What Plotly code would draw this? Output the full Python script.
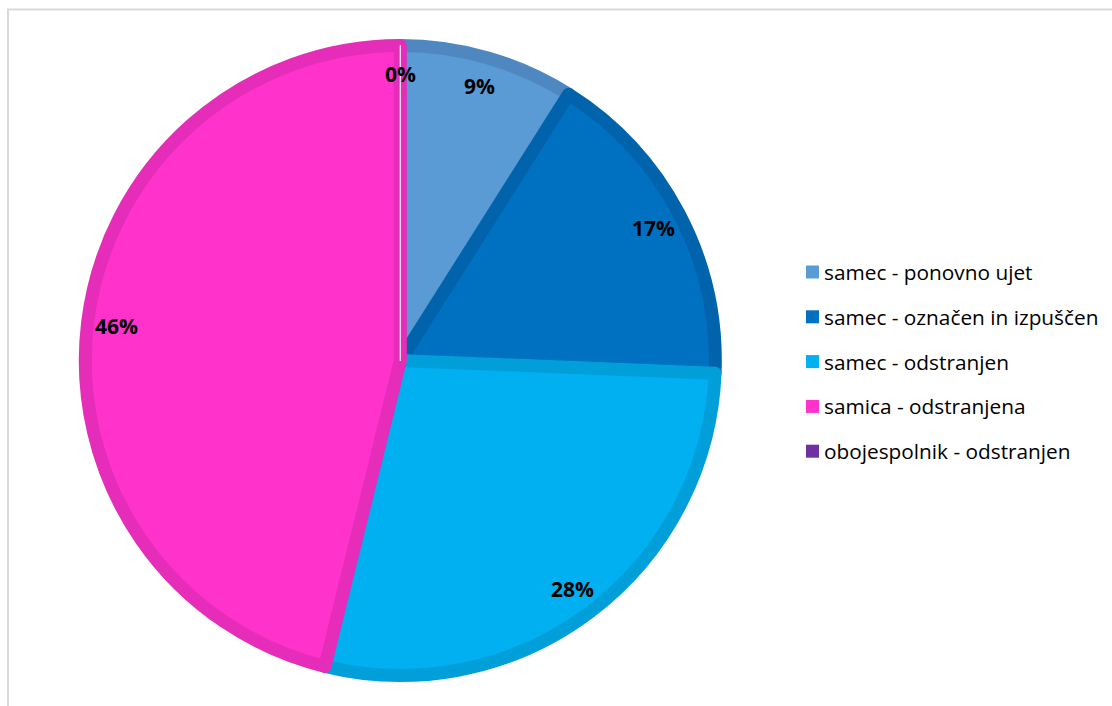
import math
import plotly.graph_objects as go

# Catch records by sex and fate
categories = [
    "samec - ponovno ujet",
    "samec - označen in izpuščen",
    "samec - odstranjen",
    "samica - odstranjena",
    "obojespolnik - odstranjen",
]
counts = [21, 39, 66, 108, 0]

fill_colors = ["#5B9BD5", "#0070C0", "#00B0F0", "#FF33CC", "#7030A0"]
edge_colors = ["#4F88C1", "#0063AB", "#009FDA", "#E52DB9", "#F4EEF8"]
edge_widths = [13, 13, 13, 13, 1.2]

W, H = 1112, 706
CX, CY = 400.3, 360.5          # pie centre in px (from top-left)
R_OUT = 321.5                  # outer edge including stroke
R = R_OUT - 6.5                # path radius (stroke is centred on it)

FONT = "Open Sans"

fig = go.Figure()

fig.add_trace(go.Pie(
    labels=categories,
    values=counts,
    sort=False,
    direction="clockwise",
    rotation=0,
    marker=dict(colors=fill_colors,
                line=dict(color=edge_colors, width=edge_widths)),
    textinfo="none",
    hoverinfo="label+percent",
    showlegend=False,
    domain=dict(x=[(CX - R) / W, (CX + R) / W],
                y=[(H - CY - R) / H, (H - CY + R) / H]),
))

# percentage labels placed along each slice's bisector
total = sum(counts)
cum = 0.0
annotations = []
for v in counts:
    mid = (cum + v / 2) / total * 2 * math.pi
    cum += v
    r = 0.89 * R_OUT
    px = CX + r * math.sin(mid)
    py = CY - r * math.cos(mid)
    annotations.append(dict(
        x=px / W, y=1 - py / H, xref="paper", yref="paper",
        text=f"<b>{round(100 * v / total)}%</b>", showarrow=False,
        xanchor="center", yanchor="middle",
        font=dict(family=FONT, size=21, color="#000000"),
    ))

# legend: coloured squares with category names
shapes = []
LEG_X0, LEG_TXT, LEG_Y0, LEG_DY, SQ = 806, 822, 272, 44.8, 13
for i, (name, col) in enumerate(zip(categories, fill_colors)):
    yc = LEG_Y0 + i * LEG_DY
    shapes.append(dict(
        type="rect", xref="paper", yref="paper",
        x0=LEG_X0 / W, x1=(LEG_X0 + SQ) / W,
        y0=1 - (yc + SQ / 2) / H, y1=1 - (yc - SQ / 2) / H,
        fillcolor=col, line=dict(width=0),
    ))
    annotations.append(dict(
        x=LEG_TXT / W, y=1 - yc / H, xref="paper", yref="paper",
        text=name, showarrow=False, xanchor="left", yanchor="middle",
        font=dict(family=FONT, size=20.8, color="#000000"),
    ))

# chart-area frame
shapes.append(dict(
    type="rect", xref="paper", yref="paper",
    x0=8 / W, x1=1.05, y0=-0.05, y1=1 - 9.5 / H,
    line=dict(color="#D9D9D9", width=2), fillcolor="rgba(0,0,0,0)",
))

fig.update_layout(
    width=W, height=H,
    margin=dict(l=0, r=0, t=0, b=0),
    paper_bgcolor="#FFFFFF",
    plot_bgcolor="#FFFFFF",
    annotations=annotations,
    shapes=shapes,
)

fig.write_html("out.html")
